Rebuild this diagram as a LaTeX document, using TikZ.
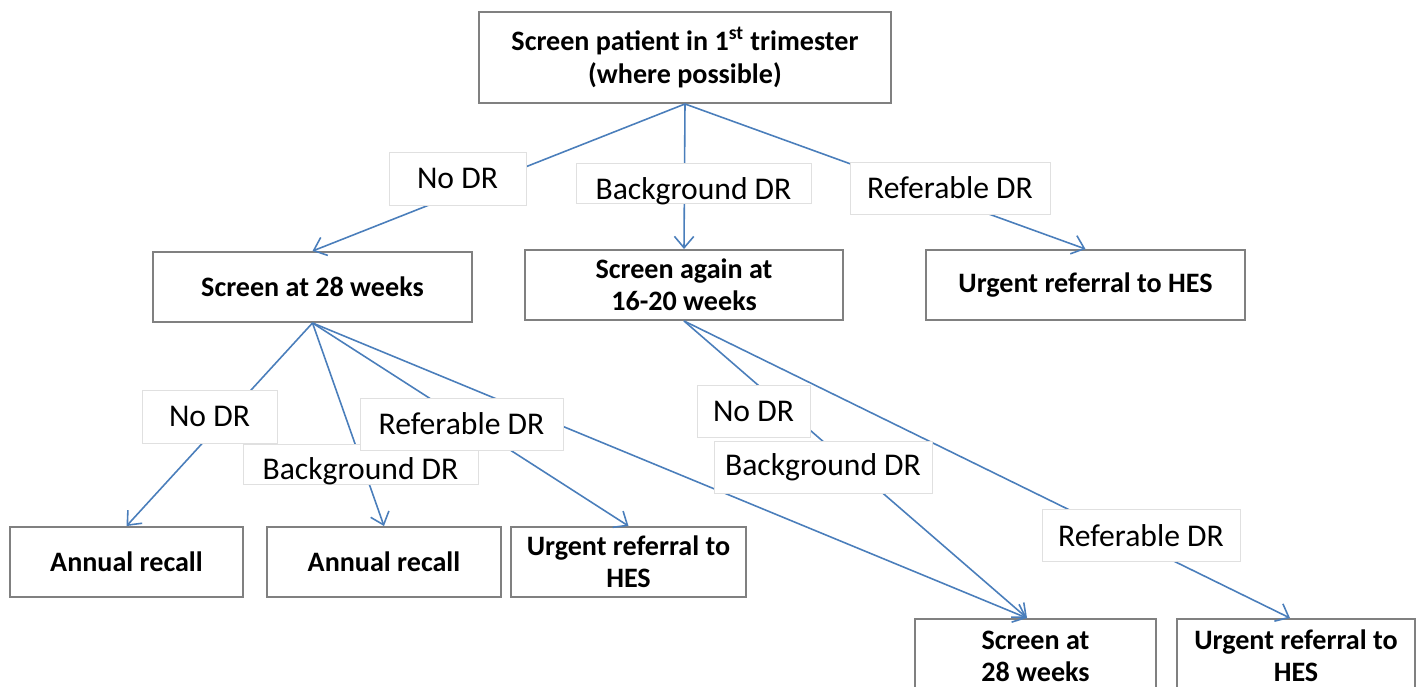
\documentclass[tikz,border=0pt]{standalone}
\usepackage{fontspec}
\setmainfont{Carlito}
\usetikzlibrary{positioning, arrows.meta}
\definecolor{flowblue}{HTML}{4A7EBB}
\definecolor{boxgray}{HTML}{808080}
\definecolor{taggray}{HTML}{E0E0E0}
\newcommand{\lowtag}[1]{\raisebox{-0.15cm}[\height][\depth]{#1}}

\begin{document}
\begin{tikzpicture}[x=0.02cm, y=-0.02cm, >={Straight Barb[length=6.5pt,width=11pt]},
  box/.style={draw=boxgray, line width=1.1pt, fill=white, align=center, inner sep=0pt,
    minimum height=1.4cm, font=\bfseries\fontsize{16}{18.3}\selectfont},
  tag/.style={draw=taggray, line width=0.5pt, fill=white, inner sep=0pt,
    minimum height=1.04cm, font=\fontsize{18}{22}\selectfont},
  flow/.style={draw=flowblue, line width=0.9pt, ->}]

\useasboundingbox (0,0) rectangle (1418,687);

% result boxes
\node[box, minimum width=8.24cm, minimum height=1.82cm] (first) at (685,57.5)
  {Screen patient in 1\textsuperscript{st} trimester\\(where possible)};
\node[box, minimum width=6.38cm] (wk28) at (312.5,287) {Screen at 28 weeks};
\node[box, minimum width=6.36cm] (again) at (684,285) {Screen again at\\16-20 weeks};
\node[box, minimum width=6.38cm] (urgA) at (1085.5,285) {Urgent referral to HES};
\node[box, minimum width=4.66cm] (recallA) at (126.5,562) {Annual recall};
\node[box, minimum width=4.68cm] (recallB) at (384,562) {Annual recall};
\node[box, minimum width=4.70cm] (urgB) at (628.5,562) {Urgent referral to\\HES};
\node[box, minimum width=4.82cm, minimum height=1.48cm] (wk28b) at (1035.5,656) {Screen at\\28 weeks};
\node[box, minimum width=4.76cm, minimum height=1.48cm] (urgC) at (1296,656) {Urgent referral to\\HES};

% connectors
\draw[flow] (first.south) -- (wk28.north);
\draw[flow] (first.south) -- (again.north);
\draw[flow] (first.south) -- (urgA.north);
\draw[flow] (wk28.south) -- (recallA.north);
\draw[flow] (wk28.south) -- (recallB.north);
\draw[flow] (wk28.south) -- (urgB.north);
\draw[flow] (wk28.south) -- ([xshift=-0.17cm]wk28b.north);
\draw[flow] (again.south) -- ([xshift=-0.17cm]wk28b.north);
\draw[flow] (again.south) -- ([xshift=-0.12cm]urgC.north);

% labels on the connectors
\node[tag, minimum width=2.74cm, minimum height=1.06cm] (noA) at (457.5,178.5) {No DR};
\node[tag, minimum width=4.7cm, minimum height=0.8cm] (bgA) at (693.5,183.5) {\lowtag{Background DR}};
\node[tag, minimum width=4cm] (refA) at (950,188) {Referable DR};
\node[tag, minimum width=2.7cm, minimum height=1.06cm] (noB) at (209.5,416.5) {No DR};
\node[tag, minimum width=4.7cm, minimum height=0.8cm] (bgB) at (360.5,464) {\lowtag{Background DR}};
\node[tag, minimum width=4.06cm] (refB) at (461.5,424) {Referable DR};
\node[tag, minimum width=2.26cm] (noC) at (753.5,411) {No DR};
\node[tag, minimum width=4.36cm] (bgC) at (823,467) {Background DR};
\node[tag, minimum width=3.96cm] (refC) at (1141,535.5) {Referable DR};

\end{tikzpicture}
\end{document}
